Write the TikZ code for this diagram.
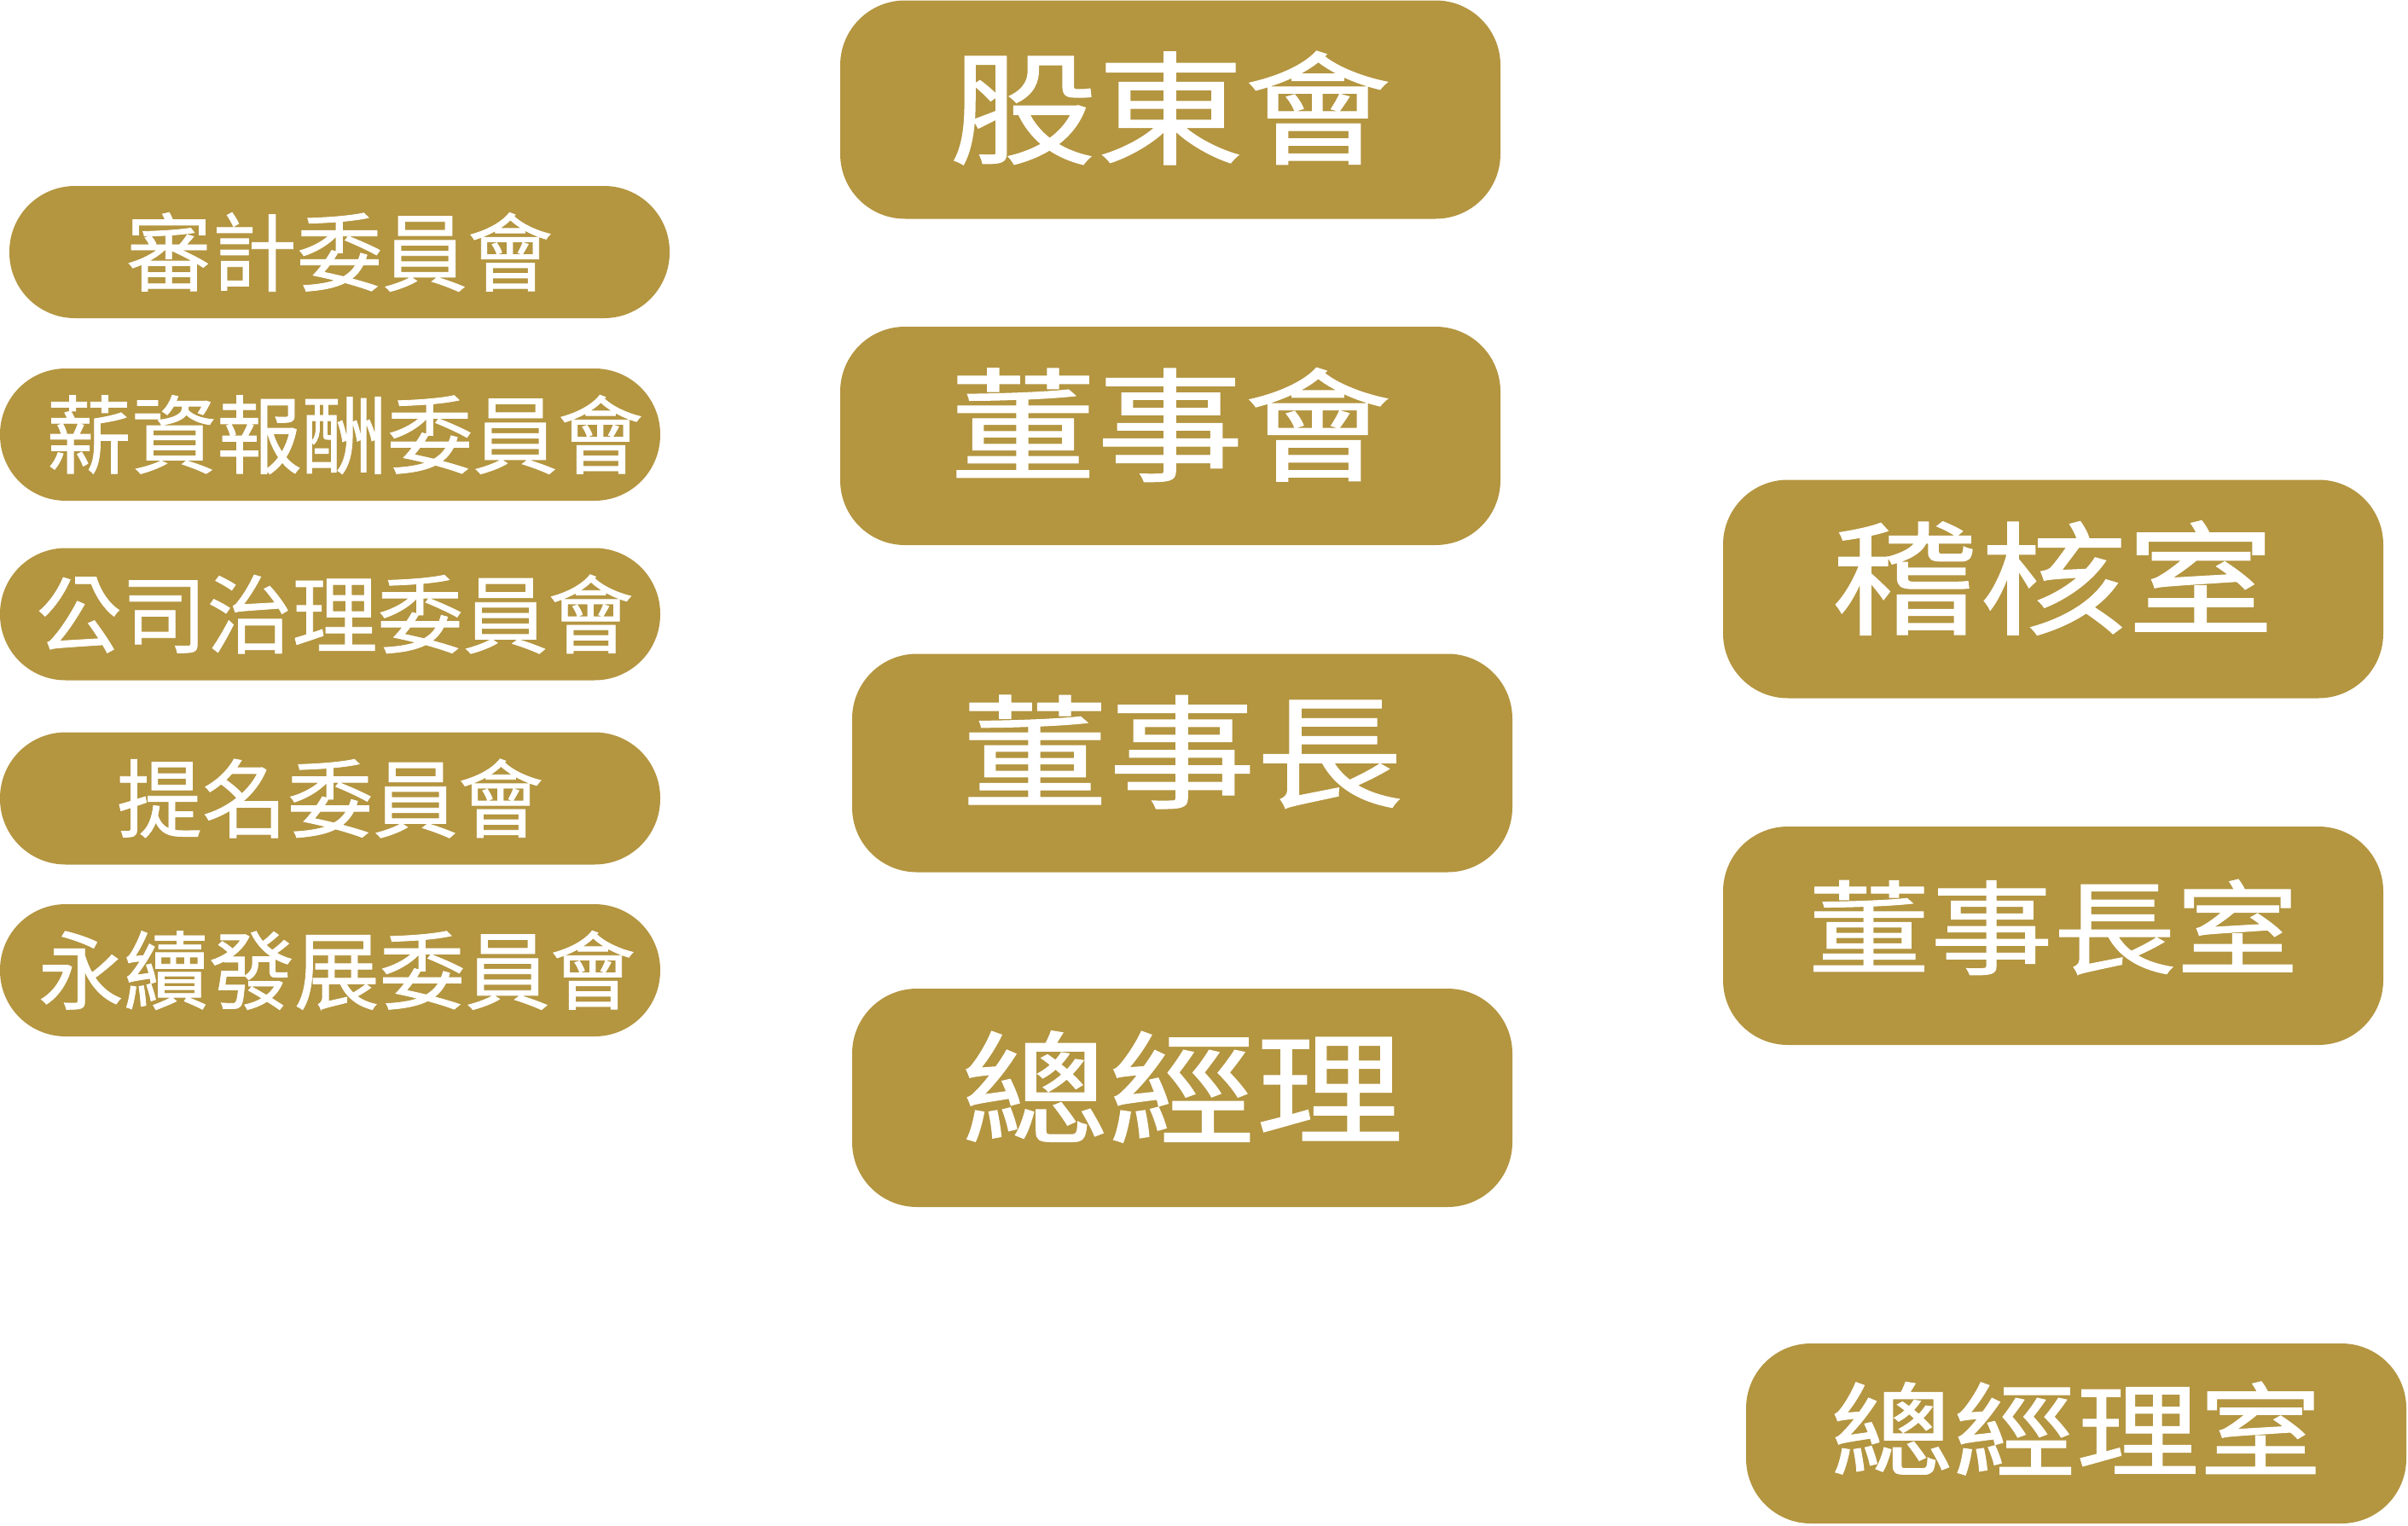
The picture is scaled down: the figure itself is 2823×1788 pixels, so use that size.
\documentclass[tikz,border=0pt]{standalone}
\usepackage{fontspec}
\usepackage{graphicx}
\newfontfamily\cjk[FakeBold=0.8]{Noto Sans CJK TC}
\definecolor{gold}{RGB}{180,149,64}
\tikzset{
  unit/.style={fill=gold, rounded corners=76pt, inner sep=0pt,
    minimum width=774pt, minimum height=256pt, text=white},
  cmte/.style={fill=gold, rounded corners=77pt, inner sep=0pt,
    minimum width=774pt, minimum height=155pt, text=white,
    font=\cjk\fontsize{100}{100}\selectfont}
}
\newcommand{\bigtxt}[2][13pt]{\cjk\fontsize{144}{144}\selectfont\raisebox{#1}[\height][\depth]{\scalebox{1.2}[1]{#2}}}
\newcommand{\midtxt}[2][10pt]{\cjk\fontsize{120}{120}\selectfont\raisebox{#1}[\height][\depth]{\scalebox{1.2}[1]{#2}}}
\begin{document}
\begin{tikzpicture}[x=1pt,y=-1pt]
    \useasboundingbox (0,0) rectangle (2823,1788);
    % centre column
    \node [unit] (shareholders) at (1372,128.5) {\bigtxt[2pt]{股東會}};
    \node [unit] (board) at (1372,511) {\bigtxt{董事會}};
    \node [unit] (chairman) at (1386,894.5) {\bigtxt{董事長}};
    \node [unit] (gm) at (1386,1287) {\bigtxt{總經理}};
    % right column
    \node [unit] (audit) at (2407,690.5) {\bigtxt{稽核室}};
    \node [unit] (chairoffice) at (2407,1097) {\midtxt{董事長室}};
    \node [unit,minimum height=211pt] (gmoffice) at (2434,1680.5) {\midtxt[6pt]{總經理室}};
    % committees
    \node [cmte] (auditcmte) at (398,295.5) {審計委員會};
    \node [cmte] (paycmte) at (387,509.5) {\hspace*{34pt}薪資報酬委員會};
    \node [cmte] (govcmte) at (387,720) {\hspace*{11pt}公司治理委員會};
    \node [cmte] (nomcmte) at (387,936) {提名委員會};
    \node [cmte] (esgcmte) at (387,1137.5) {\hspace*{16pt}永續發展委員會};
  \end{tikzpicture}
\end{document}
